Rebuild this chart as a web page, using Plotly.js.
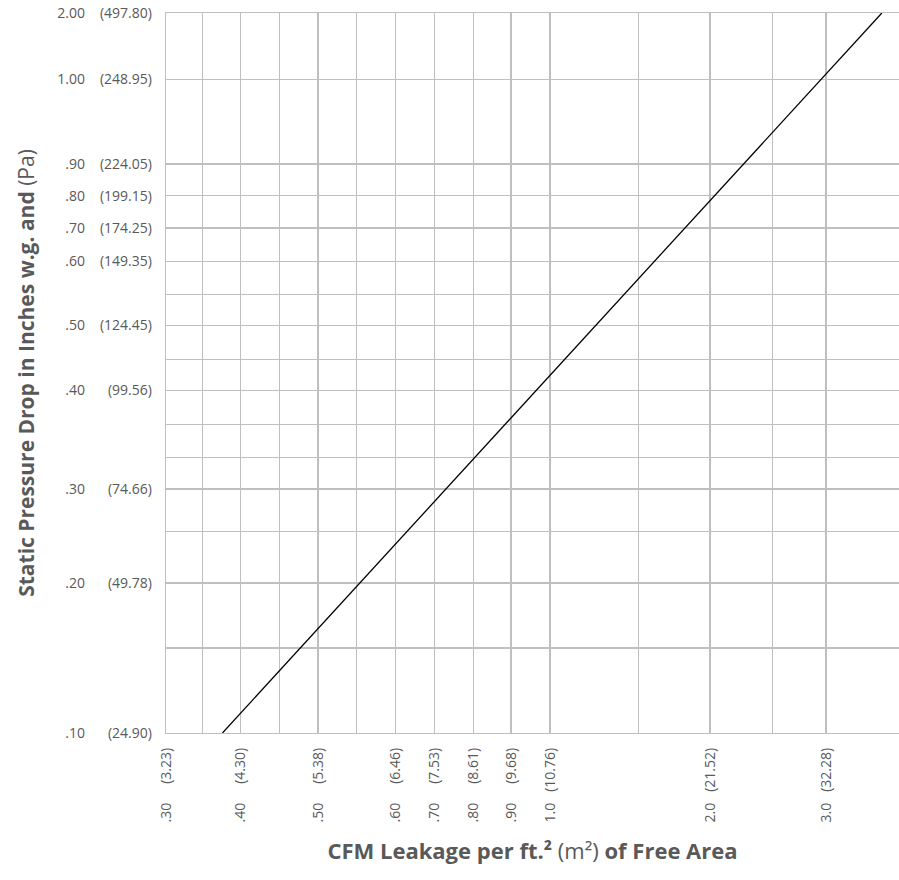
<!DOCTYPE html>
<html>
<head>
<meta charset="utf-8">
<script src="https://cdn.plot.ly/plotly-3.0.1.min.js"></script>
<style>html,body{margin:0;padding:0;background:#fff;}#chart{width:899px;height:880px;}</style>
</head>
<body>
<div id="chart"></div>
<script>
// ---------- DATA ----------
// x axis: CFM leakage per ft² (labelled gridlines) and their m² equivalents
const xTickValues   = [0.30, 0.40, 0.50, 0.60, 0.70, 0.80, 0.90, 1.0, 2.0, 3.0];
const xLabelsInch   = [".30", ".40", ".50", ".60", ".70", ".80", ".90", "1.0", "2.0", "3.0"];
const xLabelsMetric = ["(3.23)", "(4.30)", "(5.38)", "(6.46)", "(7.53)", "(8.61)", "(9.68)", "(10.76)", "(21.52)", "(32.28)"];
const xMinorValues  = [0.35, 0.45, 0.55, 1.5, 2.5];

// y axis: static pressure drop in inches w.g. and Pa
const yTickValues   = [0.10, 0.20, 0.30, 0.40, 0.50, 0.60, 0.70, 0.80, 0.90, 1.00, 2.00];
const yLabelsInch   = [".10", ".20", ".30", ".40", ".50", ".60", ".70", ".80", ".90", "1.00", "2.00"];
const yLabelsMetric = ["(24.90)", "(49.78)", "(74.66)", "(99.56)", "(124.45)", "(149.35)", "(174.25)", "(199.15)", "(224.05)", "(248.95)", "(497.80)"];
const yMinorValues  = [0.15, 0.25, 0.333, 0.367, 0.45, 0.55];

// leakage line (CFM/ft² vs inches w.g.)
const lineCfm    = [0.376, 3.52];
const lineInches = [0.10, 2.00];

// ---------- CHART SCALE (the printed chart's irregular grid spacing) ----------
const xScaleVals = [0.30, 0.35, 0.40, 0.45, 0.50, 0.55, 0.60, 0.70, 0.80, 0.90, 1.0, 1.5, 2.0, 2.5, 3.0];
const xScalePos  = [0, 36.7, 74.7, 113.3, 152, 190.7, 229.7, 268.3, 307.3, 345, 384, 472.7, 544, 606.3, 660];
const yScaleVals = [0.10, 0.15, 0.20, 0.25, 0.30, 0.333, 0.367, 0.40, 0.45, 0.50, 0.55, 0.60, 0.70, 0.80, 0.90, 1.00, 2.00];
const yScalePos  = [0, 85, 150, 201.7, 244, 275.7, 308.7, 342.7, 373.7, 407.7, 438.4, 471.7, 505, 537.4, 569, 653.7, 720];
const X_RANGE = [0, 733];
const Y_RANGE = [0, 720];

function makeScale(vals, pos) {
  return function (v) {
    let i = 0;
    if (v <= vals[0]) i = 0;
    else if (v >= vals[vals.length - 1]) i = vals.length - 2;
    else { while (i < vals.length - 2 && v > vals[i + 1]) i++; }
    const t = (v - vals[i]) / (vals[i + 1] - vals[i]);
    return pos[i] + t * (pos[i + 1] - pos[i]);
  };
}
const sx = makeScale(xScaleVals, xScalePos);
const sy = makeScale(yScaleVals, yScalePos);

// ---------- STYLE ----------
const FONT = "'Open Sans', 'Noto Sans', sans-serif";
const TXT = "#595959";
const GRID = "#bfbfbf";
const tickFont = { family: FONT, size: 14, color: TXT };

const xAllVals = xTickValues.concat(xMinorValues);
const xAllText = xLabelsMetric.concat(xMinorValues.map(() => ""));
const yAllVals = yTickValues.concat(yMinorValues);
const yAllText = yLabelsMetric.concat(yMinorValues.map(() => ""));

const traces = [
  {
    x: lineCfm.map(sx), y: lineInches.map(sy),
    xaxis: "x", yaxis: "y",
    type: "scatter", mode: "lines",
    line: { color: "#000000", width: 1.3 },
    hoverinfo: "skip"
  },
  {
    x: [], y: [], xaxis: "x2", yaxis: "y2",
    type: "scatter", mode: "lines", hoverinfo: "skip", showlegend: false
  }
];

const layout = {
  width: 899, height: 880,
  margin: { l: 166, r: 0, t: 13, b: 147 },
  paper_bgcolor: "#ffffff", plot_bgcolor: "#ffffff",
  showlegend: false,
  font: { family: FONT, color: TXT },
  xaxis: {
    range: X_RANGE, tickmode: "array",
    tickvals: xAllVals.map(sx), ticktext: xAllText,
    tickangle: -90, ticks: "", tickfont: tickFont,
    ticklabelstandoff: 8,
    showgrid: true, gridcolor: GRID, gridwidth: 1.3,
    showline: true, linecolor: GRID, linewidth: 1.3, mirror: true,
    zeroline: false, fixedrange: true
  },
  xaxis2: {
    overlaying: "x", anchor: "y", side: "bottom",
    range: X_RANGE, tickmode: "array",
    tickvals: xTickValues.map(sx), ticktext: xLabelsInch,
    tickangle: -90, ticks: "", tickfont: tickFont,
    ticklabelstandoff: 66,
    showgrid: false, showline: false, zeroline: false, fixedrange: true,
    title: {
      text: "<b>CFM Leakage per ft.²</b> (m²) <b>of Free Area</b>",
      font: { family: FONT, size: 22, color: TXT },
      standoff: 22
    }
  },
  yaxis: {
    range: Y_RANGE, tickmode: "array",
    tickvals: yAllVals.map(sy), ticktext: yAllText,
    ticks: "", tickfont: tickFont,
    ticklabelstandoff: 10,
    showgrid: true, gridcolor: GRID, gridwidth: 1.3,
    showline: true, linecolor: GRID, linewidth: 1.3,
    zeroline: false, fixedrange: true
  },
  yaxis2: {
    overlaying: "y", anchor: "x", side: "left",
    range: Y_RANGE, tickmode: "array",
    tickvals: yTickValues.map(sy), ticktext: yLabelsInch,
    ticks: "", tickfont: tickFont,
    ticklabelstandoff: 80,
    showgrid: false, showline: false, zeroline: false, fixedrange: true,
    title: {
      text: "<b>Static Pressure Drop in Inches w.g. and</b> (Pa)",
      font: { family: FONT, size: 21, color: TXT },
      standoff: 16
    }
  }
};

Plotly.newPlot("chart", traces, layout, { staticPlot: true, displayModeBar: false });
</script>
</body>
</html>
